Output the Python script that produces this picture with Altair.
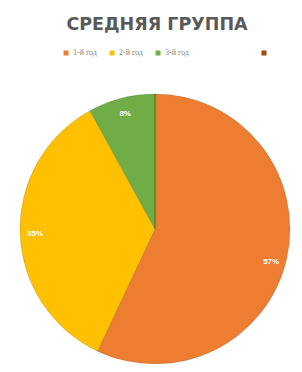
import altair as alt
import pandas as pd

categories = ["1-й год", "2-й год", "3-й год", "4-й год"]
values = [57, 35, 8, 0]
labels = ["57%", "35%", "8%", ""]
colors = ["#ED7D31", "#FFC000", "#70AD47", "#9E480E"]

df = pd.DataFrame({"cat": categories, "val": values, "lab": labels, "order": list(range(len(categories)))})

color_scale = alt.Scale(domain=categories, range=colors)
theta_scale = alt.Scale(domain=[0, 100])

base = alt.Chart(df).transform_window(
    cum="sum(val)", sort=[alt.SortField("order")]
).transform_calculate(
    start="datum.cum - datum.val",
    mid="datum.cum - datum.val / 2",
).encode(
    x=alt.value(147),
    y=alt.value(153),
)

pad = "\u2800" * 10
arc = base.mark_arc(outerRadius=135, stroke="#000000", strokeOpacity=0.12, strokeWidth=1).encode(
    theta=alt.Theta("start:Q", scale=theta_scale),
    theta2=alt.Theta2("cum:Q"),
    color=alt.Color(
        "cat:N",
        scale=color_scale,
        sort=categories,
        legend=alt.Legend(
            title=None,
            orient="none",
            legendX=54,
            legendY=-27,
            direction="horizontal",
            symbolType="square",
            symbolSize=25,
            symbolStrokeWidth=0,
            labelFontSize=8,
            labelColor="#7f7f7f",
            labelFont="Liberation Serif",
            labelOffset=3,
            labelLimit=300,
            columnPadding=11,
            labelExpr="datum.value == '4-й год' ? '' : (datum.value == '3-й год' ? datum.label + '" + pad + "' : datum.label)",
        ),
    ),
)

txt_big = base.mark_text(radius=119, dy=7, fontSize=8, fontWeight="bold", color="white", font="Liberation Sans").encode(
    theta=alt.Theta("mid:Q", scale=theta_scale),
    text="lab:N",
).transform_filter(alt.datum.cat == "1-й год")

txt_small = base.mark_text(radius=120, dy=1, fontSize=8, fontWeight="bold", color="white", font="Liberation Sans").encode(
    theta=alt.Theta("mid:Q", scale=theta_scale),
    text="lab:N",
).transform_filter((alt.datum.cat != "1-й год") & (alt.datum.val > 0))

chart = alt.layer(arc, txt_big, txt_small).properties(
    width=286,
    height=288,
    padding={"top": 68, "left": 0, "right": 0, "bottom": 0},
    autosize=alt.AutoSizeParams(type="none"),
    title=alt.TitleParams(
        "СРЕДНЯЯ ГРУППА",
        fontSize=17.5,
        fontWeight="bold",
        color="#595959",
        font="DejaVu Sans",
        anchor="middle",
        offset=16,
        dx=6,
    ),
).configure_view(stroke=None)

chart.save("out.html", embed_options={"renderer": "svg", "actions": False})
